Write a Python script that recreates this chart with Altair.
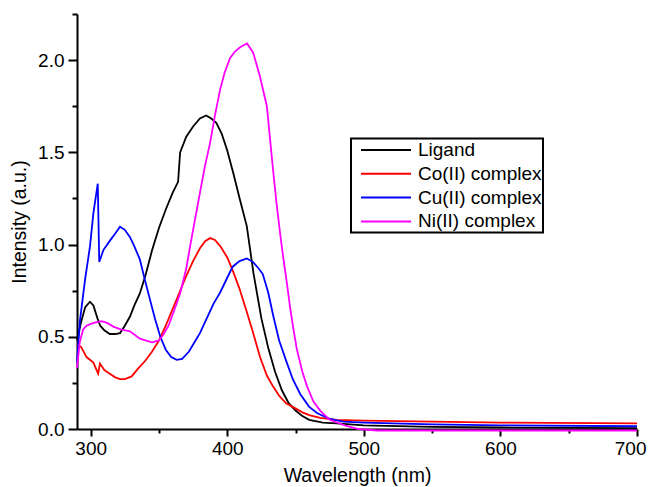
import altair as alt
import pandas as pd

FONT = "Liberation Sans"

series_names = ["Ligand", "Co(II) complex", "Cu(II) complex", "Ni(II) complex"]
series_colors = ["#000000", "#ff0000", "#0000ff", "#ff00ff"]

lig_x = [290, 293, 296, 299.5, 302, 305, 307, 310, 314, 318, 321.5, 325, 328.8, 332, 336, 340, 345, 350, 355, 360,
         364, 365.5, 370, 375, 380, 384.5, 388, 392, 396, 400, 404.5, 409.4, 414.3, 419.2, 425, 430, 435, 440, 445,
         450, 455, 460, 470, 480, 500, 550, 600, 700]
lig_y = [0.48, 0.58, 0.66, 0.69, 0.67, 0.60, 0.56, 0.535, 0.515, 0.515, 0.52, 0.56, 0.61, 0.67, 0.735, 0.83, 0.97,
         1.09, 1.19, 1.28, 1.34, 1.50, 1.585, 1.64, 1.684, 1.70, 1.685, 1.66, 1.60, 1.51, 1.385, 1.24, 1.10, 0.845,
         0.60, 0.44, 0.31, 0.21, 0.14, 0.10, 0.07, 0.05, 0.035, 0.03, 0.02, 0.012, 0.008, 0.005]

co_x = [290, 293, 297, 302, 305.5, 306.8, 310, 314, 318, 321.5, 325, 330, 335, 340, 345, 350, 355, 360, 365, 370,
        375, 380, 384, 387.5, 391, 395, 400, 404, 409, 414.5, 419, 424, 429, 433.6, 438, 443, 448, 455, 460, 468,
        480, 500, 550, 600, 700]
co_y = [0.455, 0.445, 0.39, 0.36, 0.30, 0.355, 0.32, 0.30, 0.28, 0.27, 0.27, 0.285, 0.33, 0.37, 0.42, 0.48, 0.56,
        0.65, 0.74, 0.83, 0.91, 0.98, 1.02, 1.035, 1.025, 0.99, 0.93, 0.86, 0.76, 0.63, 0.52, 0.39, 0.29, 0.23,
        0.18, 0.14, 0.12, 0.09, 0.075, 0.06, 0.05, 0.045, 0.04, 0.035, 0.03]

cu_x = [290, 292.2, 295.9, 299.5, 302, 305.2, 306.3, 309.3, 314, 318, 321.5, 325, 328.8, 332, 336, 340, 343.5, 347,
        351, 355, 359, 363, 367, 372, 376, 380, 385, 390, 394.8, 400, 404, 409, 414.3, 419, 423, 426, 430, 433.8,
        438, 443.6, 448, 453.4, 460, 466, 475, 485, 500, 550, 600, 700]
cu_y = [0.36, 0.59, 0.81, 0.99, 1.17, 1.33, 0.905, 0.97, 1.02, 1.06, 1.097, 1.08, 1.04, 0.99, 0.92, 0.80, 0.70,
        0.60, 0.50, 0.43, 0.39, 0.375, 0.38, 0.42, 0.47, 0.52, 0.60, 0.68, 0.74, 0.82, 0.88, 0.91, 0.925, 0.905,
        0.87, 0.84, 0.74, 0.61, 0.48, 0.36, 0.27, 0.19, 0.12, 0.085, 0.055, 0.04, 0.035, 0.025, 0.02, 0.015]

ni_x = [290, 292, 294.5, 297, 300, 304.4, 308, 312, 316.6, 322, 328.8, 336, 340, 345, 350, 353, 357, 361, 365.5,
        370, 372.8, 376, 380, 383.5, 387.4, 391, 394.8, 398, 402, 405.5, 409.4, 414.5, 419, 424, 429, 433.6, 436,
        438.7, 441, 443.5, 446, 448.5, 451, 455, 458.5, 463, 468, 475, 486, 496, 510, 600, 700]
ni_y = [0.33, 0.47, 0.54, 0.56, 0.57, 0.58, 0.585, 0.575, 0.555, 0.54, 0.53, 0.49, 0.48, 0.47, 0.48, 0.51, 0.56,
        0.64, 0.735, 0.87, 0.99, 1.12, 1.28, 1.42, 1.55, 1.70, 1.84, 1.93, 2.01, 2.045, 2.07, 2.09, 2.04, 1.91,
        1.75, 1.40, 1.23, 1.06, 0.93, 0.80, 0.66, 0.54, 0.43, 0.31, 0.23, 0.15, 0.10, 0.05, 0.02, 0.0, -0.008,
        -0.008, -0.008]

x_ticks = [300, 350, 400, 450, 500, 550, 600, 650, 700]
y_ticks = [0, 0.25, 0.5, 0.75, 1.0, 1.25, 1.5, 1.75, 2.0, 2.25]

frames = []
for name, xs, ys in zip(series_names, [lig_x, co_x, cu_x, ni_x], [lig_y, co_y, cu_y, ni_y]):
    frames.append(pd.DataFrame({"wl": xs, "val": ys, "series": name, "idx": range(len(xs))}))
df = pd.concat(frames, ignore_index=True)

x_axis = alt.Axis(
    values=x_ticks,
    labelExpr="datum.value % 100 === 0 ? datum.label : ''",
    tickSize={"condition": {"test": "datum.value % 100 === 0", "value": 7}, "value": 4},
    title="Wavelength (nm)",
    grid=False, domainColor="black", domainWidth=2, tickColor="black", tickWidth=2,
    labelFontSize=19, labelColor="black", labelFont=FONT, labelPadding=3,
    labelFlush=5, labelFlushOffset=9, labelOverlap=False, labelBound=False,
    titleFontSize=19.5, titleFont=FONT, titleFontWeight="normal", titleColor="black",
    titleBaseline="alphabetic", titleY=52.5,
)
y_axis = alt.Axis(
    values=y_ticks,
    labelExpr="datum.value % 0.5 === 0 ? format(datum.value, '.1f') : ''",
    tickSize={"condition": {"test": "datum.value % 0.5 === 0", "value": 9}, "value": 5},
    title="Intensity (a.u.)",
    grid=False, domainColor="black", domainWidth=2, tickColor="black", tickWidth=2,
    labelFontSize=19, labelColor="black", labelFont=FONT, labelPadding=4,
    labelOverlap=False, labelBound=False, labelFlush=False,
    titleFontSize=19.5, titleFont=FONT, titleFontWeight="normal", titleColor="black",
    titleBaseline="alphabetic", titleX=-51.5,
)

legend = alt.Legend(
    orient="none", legendX=274, legendY=124.5, title=None,
    strokeColor="black", fillColor="white", padding=0.5,
    symbolType="M-2.5,0H2.5", symbolSize=400, symbolStrokeWidth=2, symbolOffset=23.5,
    labelOffset=21, labelFontSize=19, labelFont=FONT, labelColor="black", labelLimit=400,
    labelExpr="datum.label + '  '",
    rowPadding=2.8,
)

chart = alt.Chart(df).mark_line(strokeWidth=1.8, clip=False).encode(
    x=alt.X("wl:Q", scale=alt.Scale(domain=[290, 700], nice=False, zero=False), axis=x_axis),
    y=alt.Y("val:Q", scale=alt.Scale(domain=[0, 2.25], nice=False, zero=False), axis=y_axis),
    color=alt.Color("series:N", scale=alt.Scale(domain=series_names, range=series_colors), legend=legend),
    order="idx:Q",
).properties(
    width=560, height=415,
    autosize=alt.AutoSizeParams(type="none"),
    padding={"left": 69, "top": 6, "right": 10, "bottom": 58},
).configure_view(stroke=None).configure_legend(strokeWidth=2)

chart.save("out.html", embed_options={"renderer": "svg", "actions": False})
